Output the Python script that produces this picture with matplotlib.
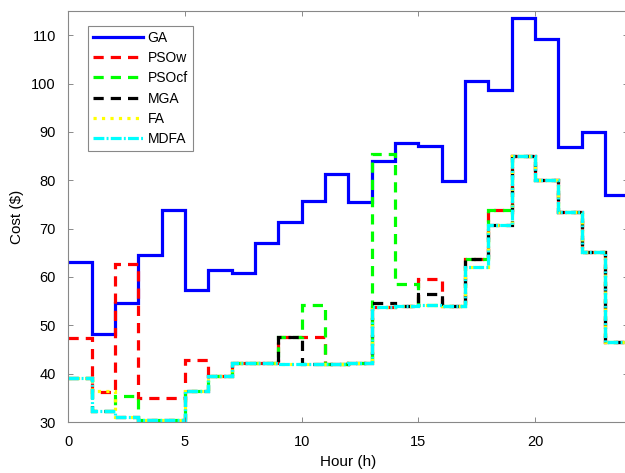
import numpy as np
import matplotlib
matplotlib.use('Agg')
import matplotlib.pyplot as plt

plt.rcParams['font.family'] = ['Liberation Sans', 'DejaVu Sans']

# hourly costs ($), one value per hour 0..23
hours = np.arange(25)
ga = [63.1, 48.2, 54.6, 64.6, 73.8, 57.3, 61.4, 60.8, 67.0, 71.4, 75.7, 81.2,
      75.4, 83.9, 87.7, 87.0, 79.8, 100.5, 98.6, 113.6, 109.3, 86.9, 90.0, 76.9]
pso_w = [47.3, 36.3, 62.6, 34.9, 34.9, 42.8, 39.6, 42.3, 42.3, 47.6, 47.6, 42.0,
         42.3, 53.7, 54.0, 59.5, 54.0, 63.7, 73.8, 85.0, 80.0, 73.4, 65.2, 46.6]
pso_cf = [39.0, 32.3, 35.4, 30.4, 30.4, 36.5, 39.6, 42.3, 42.3, 47.6, 54.2, 42.0,
          42.3, 85.4, 58.5, 54.2, 54.0, 63.7, 73.8, 85.0, 80.0, 73.4, 65.2, 46.6]
mga = [39.0, 32.3, 31.1, 30.4, 30.4, 36.5, 39.6, 42.3, 42.3, 47.6, 42.0, 42.0,
       42.3, 54.6, 54.0, 56.4, 54.0, 63.7, 70.7, 85.0, 80.0, 73.4, 65.2, 46.6]
fa = [39.0, 36.4, 31.1, 30.4, 30.4, 36.5, 39.6, 42.3, 42.3, 42.0, 42.0, 42.0,
      42.3, 53.7, 53.9, 54.2, 54.0, 62.0, 70.7, 85.0, 80.0, 73.4, 65.2, 46.6]
mdfa = [39.0, 32.3, 31.1, 30.4, 30.4, 36.5, 39.6, 42.3, 42.3, 42.0, 42.0, 42.0,
        42.3, 53.7, 53.9, 54.2, 54.0, 62.0, 70.7, 85.0, 80.0, 73.4, 65.2, 46.6]

fig = plt.figure(figsize=(6.25, 4.73), dpi=100)
ax = fig.add_axes([0.1093, 0.1078, 0.896, 0.869])

dash = (0, (3.2, 2.2))
dashdot = (0, (3.4, 0.7, 0.6, 0.7))
series = [
    (ga, 'GA', 'blue', '-'),
    (pso_w, 'PSOw', 'red', dash),
    (pso_cf, 'PSOcf', '#00ff00', dash),
    (mga, 'MGA', 'black', dash),
    (fa, 'FA', 'yellow', ':'),
    (mdfa, 'MDFA', 'cyan', dashdot),
]
for vals, name, col, ls in series:
    ax.stairs(vals, hours, baseline=None, color=col, linestyle=ls,
              linewidth=2.3, label=name)

ax.set_xlim(0, 24)
ax.set_ylim(30, 115)
ax.set_xticks([0, 5, 10, 15, 20])
ax.set_yticks(np.arange(30, 111, 10))
ax.tick_params(direction='in', length=3.5, width=0.6, color='#777777',
               top=True, right=True, labelsize=10.5, labelcolor='black', pad=9)
for s in ax.spines.values():
    s.set_color('#888888')
    s.set_linewidth(0.8)

ax.set_xlabel('Hour (h)', fontsize=11, labelpad=5)
ax.set_ylabel('Cost ($)', fontsize=11, labelpad=5)

leg = ax.legend(loc='upper left', bbox_to_anchor=(0.0347, 0.9635), borderaxespad=0,
                fancybox=False, framealpha=1, edgecolor='#888888', fontsize=10,
                handlelength=3.6, handletextpad=0.35, labelspacing=0.45,
                borderpad=0.35)
leg.get_frame().set_linewidth(0.8)

fig.savefig('out.png', dpi=100)
